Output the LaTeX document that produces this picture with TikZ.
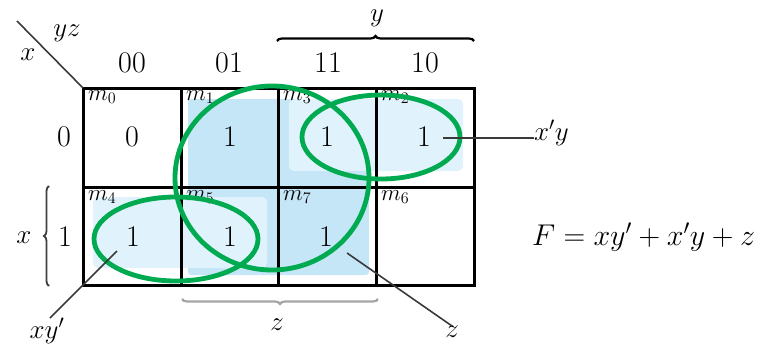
\RequirePackage{fix-cm}
\documentclass[tikz,border=0pt]{standalone}
\usetikzlibrary{decorations.pathreplacing}
\definecolor{kgreen}{HTML}{00AA50}
\definecolor{darkfill}{HTML}{C4E6F6}
\definecolor{lightfill}{HTML}{E0F2FB}
\definecolor{leadgray}{HTML}{3A3A3A}
\begin{document}
\begin{tikzpicture}[x=1pt,y=-1pt,
  big/.style={inner sep=0pt,font=\fontsize{30}{32}\selectfont},
  lbl/.style={inner sep=0pt,font=\fontsize{27}{30}\selectfont},
  mlab/.style={inner sep=0pt,anchor=north west,font=\fontsize{23}{26}\selectfont},
  grid/.style={line width=3pt,black},
  loop/.style={draw=kgreen,line width=4.8pt},
  lead/.style={leadgray,line width=1.6pt},
  brc/.style={decorate,decoration={brace,amplitude=5pt},line width=2.2pt}]
\useasboundingbox (0,0) rectangle (761,343);
% shading
\fill[darkfill,rounded corners=3pt] (188,99) rectangle (369,275);
\fill[lightfill,rounded corners=5pt] (289,99) rectangle (463,171);
\fill[lightfill,rounded corners=5pt] (93,197) rectangle (267,268);
% grid
\draw[grid] (83,88) rectangle (474,285);
\draw[grid] (181,88) -- (181,285) (278,88) -- (278,285) (376,88) -- (376,285)
            (83,187) -- (474,187);
% corner
\coordinate (dA) at (17,21);
\coordinate (dB) at (83,88);
\draw[lead] (dA) -- (dB);
\node[lbl] (yz) at (67,33) {$yz$};
\node[lbl] (xx) at (28,55) {$x$};
% column labels
\node[big] (c00) at (132,63) {00};
\node[big] (c01) at (229,63) {01};
\node[big] (c11) at (328,63) {11};
\node[big] (c10) at (425,63) {10};
% row labels
\node[big] (r0) at (64,137) {0};
\node[big] (r1) at (65,237) {1};
\node[lbl] (rx) at (24,238) {$x$};
% braces
\coordinate (ybA) at (277,41);
\coordinate (ybB) at (474,41);
\draw[brc] (ybA) -- (ybB);
\node[lbl] (ylab) at (377,18) {$y$};
\coordinate (xbA) at (49,286);
\coordinate (xbB) at (49,186);
\draw[brc,line width=1.8pt,black!75] (xbA) -- (xbB);
\coordinate (zbA) at (378,299);
\coordinate (zbB) at (182,299);
\draw[brc,line width=2.2pt,black!35] (zbA) -- (zbB);
\node[lbl] (zlab) at (277,325) {$z$};
% m labels
\node[mlab] (m0) at (88,90) {$m_0$};
\node[mlab] (m1) at (186,90) {$m_1$};
\node[mlab] (m3) at (283,90) {$m_3$};
\node[mlab] (m2) at (381,90) {$m_2$};
\node[mlab] (m4) at (88,190) {$m_4$};
\node[mlab] (m5) at (186,190) {$m_5$};
\node[mlab] (m7) at (283,190) {$m_7$};
\node[mlab] (m6) at (381,190) {$m_6$};
% values
\node[big] (v0) at (132,137) {0};
\node[big] (v1) at (230,137) {1};
\node[big] (v3) at (327,137) {1};
\node[big] (v2) at (424,137) {1};
\node[big] (v4) at (133,237) {1};
\node[big] (v5) at (230,237) {1};
\node[big] (v7) at (326,237) {1};
% loops
\draw[loop] (272,178) ellipse [x radius=97,y radius=92];
\draw[loop] (381,137) ellipse [x radius=79,y radius=42];
\draw[loop] (176,239) ellipse [x radius=82,y radius=42];
% leaders
\node[lbl,anchor=west] (lxpy) at (534,133) {$x'y$};
\coordinate (sxpy) at (443,138);
\draw[lead] (sxpy) -- (lxpy.west |- sxpy);
\node[lbl] (lxyp) at (47,331) {$xy'$};
\coordinate (sxyp) at (117,251);
\draw[lead] (sxyp) -- (lxyp.north -| 50,0);
\node[lbl] (lz) at (452,332) {$z$};
\coordinate (sz) at (347,253);
\draw[lead] (sz) -- (lz.north);
% function
\node[inner sep=0pt,font=\fontsize{30}{32}\selectfont,anchor=west] (F) at (532,237) {$F = xy' + x'y + z$};
\end{tikzpicture}
\end{document}
